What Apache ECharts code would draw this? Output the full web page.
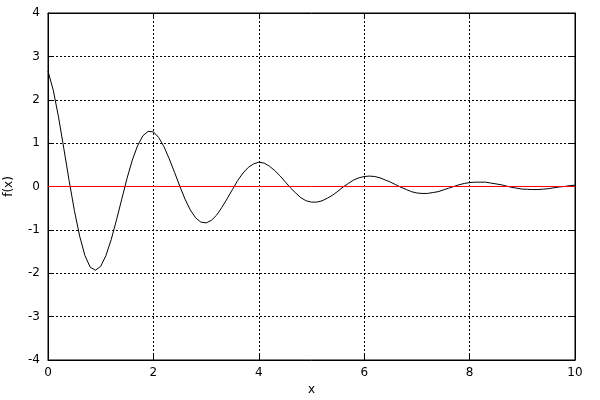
<!DOCTYPE html>
<html>
<head>
<meta charset="utf-8">
<script src="https://cdn.jsdelivr.net/npm/echarts@6/dist/echarts.min.js"></script>
<style>html,body{margin:0;padding:0;background:#fff;}#c{width:600px;height:400px;}</style>
</head>
<body>
<div id="c"></div>
<script>
// sampled x positions
var xs = [0,0.1,0.2,0.3,0.4,0.5,0.6,0.7,0.8,0.9,1,1.1,1.2,1.3,1.4,1.5,1.6,1.7,1.8,1.9,2,2.1,2.2,2.3,2.4,2.5,2.6,2.7,2.8,2.9,3,3.1,3.2,3.3,3.4,3.5,3.6,3.7,3.8,3.9,4,4.1,4.2,4.3,4.4,4.5,4.6,4.7,4.8,4.9,5,5.1,5.2,5.3,5.4,5.5,5.6,5.7,5.8,5.9,6,6.1,6.2,6.3,6.4,6.5,6.6,6.7,6.8,6.9,7,7.1,7.2,7.3,7.4,7.5,7.6,7.7,7.8,7.9,8,8.1,8.2,8.3,8.4,8.5,8.6,8.7,8.8,8.9,9,9.1,9.2,9.3,9.4,9.5,9.6,9.7,9.8,9.9,10];
// f(x) values
var fx = [2.66,2.22,1.60,0.88,0.14,-0.55,-1.14,-1.59,-1.86,-1.93,-1.84,-1.59,-1.22,-0.77,-0.29,0.19,0.61,0.94,1.17,1.27,1.26,1.13,0.92,0.64,0.33,0.01,-0.29,-0.54,-0.72,-0.82,-0.84,-0.78,-0.66,-0.48,-0.28,-0.07,0.14,0.31,0.44,0.52,0.56,0.54,0.47,0.37,0.25,0.11,-0.03,-0.15,-0.26,-0.33,-0.36,-0.36,-0.33,-0.27,-0.20,-0.11,-0.01,0.07,0.15,0.20,0.23,0.24,0.23,0.20,0.15,0.10,0.04,-0.02,-0.07,-0.12,-0.15,-0.16,-0.16,-0.14,-0.12,-0.08,-0.04,0.00,0.04,0.07,0.09,0.10,0.10,0.10,0.08,0.06,0.04,0.01,-0.02,-0.04,-0.06,-0.065,-0.07,-0.07,-0.06,-0.05,-0.03,-0.01,0.00,0.02,0.03];
// reference line y = 0
var zeroLine = [[0,0],[10,0]];
var xTicks = [0,2,4,6,8,10];
var yTicks = [-4,-3,-2,-1,0,1,2,3,4];

var font = 'DejaVu Sans';
var gridLine = {show:true, lineStyle:{color:'#000', width:1, type:[2,2]}};
function axisBase(extra){
  return Object.assign({
    axisLine:{show:true, onZero:false, lineStyle:{color:'#000', width:1}},
    axisTick:{show:true, inside:true, length:5, lineStyle:{color:'#000'}},
    splitLine:{show:false}
  }, extra);
}
var chart = echarts.init(document.getElementById('c'), null, {renderer:'canvas'});
chart.setOption({
  animation:false,
  backgroundColor:'#fff',
  grid:{left:48, right:25, top:13, bottom:40, containLabel:false, outerBoundsMode:'none', show:true, borderColor:'#000', borderWidth:1, backgroundColor:'transparent'},
  xAxis:[
    axisBase({type:'value', min:xTicks[0], max:xTicks[xTicks.length-1], interval:2, position:'bottom',
      name:'x', nameLocation:'middle', nameGap:23, nameTextStyle:{fontFamily:font, fontSize:12, color:'#000'},
      axisLabel:{fontFamily:font, fontSize:12, color:'#000', margin:7},
      splitLine:gridLine}),
    axisBase({type:'value', min:0, max:10, interval:2, position:'top', axisLabel:{show:false}})
  ],
  yAxis:[
    axisBase({type:'value', min:yTicks[0], max:yTicks[yTicks.length-1], interval:1, position:'left',
      name:'f(x)', nameLocation:'middle', nameGap:33, nameRotate:90, nameTextStyle:{fontFamily:font, fontSize:12, color:'#000'},
      axisLabel:{fontFamily:font, fontSize:12, color:'#000', margin:8},
      splitLine:gridLine}),
    axisBase({type:'value', min:-4, max:4, interval:1, position:'right', axisLabel:{show:false}})
  ],
  series:[
    {type:'line', data:xs.map(function(x,i){return [x, fx[i]];}), symbol:'none', lineStyle:{color:'#000', width:1}, xAxisIndex:0, yAxisIndex:0, z:3},
    {type:'line', data:zeroLine, symbol:'none', lineStyle:{color:'#ff0000', width:1}, xAxisIndex:0, yAxisIndex:0, z:4}
  ]
});
</script>
</body>
</html>
